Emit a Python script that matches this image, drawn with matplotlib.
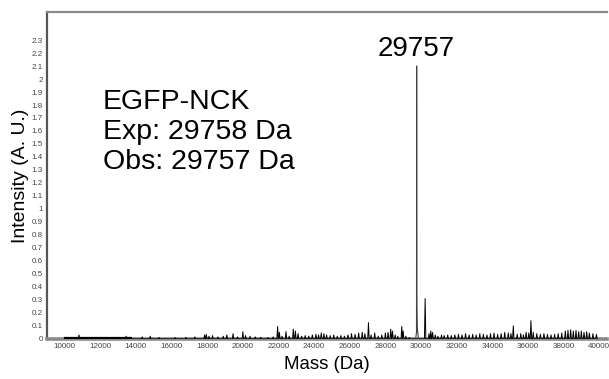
import matplotlib
matplotlib.use("Agg")
import matplotlib.pyplot as plt

plt.rcParams["font.family"] = ["Liberation Sans", "DejaVu Sans"]

# main peak (mass in Da, intensity in A.U.)
main_mass = 29757
main_height = 2.1
main_profile_dx = [-60, -10, 0, 12, 35, 100]
main_profile_y = [0.0, 0.05, 2.1, 0.28, 0.08, 0.0]

# smaller peaks
peak_mass = [
    10800, 13450,
    14350, 14800, 15300, 16200, 16800, 17300, 17850, 17950, 18100, 18300,
    18600, 18900, 19100, 19450, 19700, 20000, 20150, 20400, 20700, 21000,
    21400, 21700, 21950, 22050,
    22200, 22420, 22600, 22830, 22950, 23100, 23300, 23500, 23700, 23900,
    24100, 24250, 24400, 24550, 24700, 24900, 25100, 25300, 25500, 25700, 25900,
    26100, 26300, 26500, 26700, 26850, 27050, 27200, 27400, 27600, 27800,
    28000, 28150, 28300, 28400, 28550, 28700, 28920, 29000, 29150, 29350,
    30232, 30450, 30550, 30650, 30800, 30950, 31150, 31300, 31500, 31700,
    31900, 32100, 32300, 32500, 32700, 32900, 33100, 33300, 33500, 33700,
    33900, 34100, 34300, 34500, 34700, 34900, 35050, 35180, 35400, 35600,
    35750, 35900, 36050, 36170, 36300, 36500, 36700, 36900, 37100, 37300,
    37500, 37700, 37900, 38100, 38250, 38400, 38550, 38700, 38850, 39000,
    39150, 39300, 39450, 39650, 39850,
]
peak_height = [
    0.03, 0.02,
    0.015, 0.02, 0.01, 0.01, 0.012, 0.015, 0.03, 0.035, 0.02, 0.025,
    0.015, 0.02, 0.03, 0.04, 0.015, 0.055, 0.025, 0.02, 0.015, 0.012,
    0.01, 0.015, 0.095, 0.05,
    0.02, 0.056, 0.02, 0.075, 0.06, 0.04, 0.02, 0.025, 0.02, 0.03,
    0.035, 0.03, 0.045, 0.04, 0.03, 0.025, 0.03, 0.02, 0.025, 0.02, 0.03,
    0.04, 0.035, 0.045, 0.05, 0.04, 0.125, 0.03, 0.045, 0.02, 0.03,
    0.045, 0.05, 0.075, 0.06, 0.03, 0.02, 0.095, 0.06, 0.02, 0.01,
    0.31, 0.04, 0.06, 0.05, 0.03, 0.02, 0.03, 0.025, 0.03, 0.025,
    0.03, 0.035, 0.03, 0.04, 0.03, 0.035, 0.03, 0.04, 0.035, 0.03,
    0.04, 0.045, 0.035, 0.04, 0.05, 0.045, 0.04, 0.10, 0.035, 0.04,
    0.03, 0.05, 0.045, 0.14, 0.05, 0.04, 0.035, 0.04, 0.035, 0.03,
    0.035, 0.04, 0.045, 0.06, 0.065, 0.07, 0.06, 0.065, 0.055, 0.06,
    0.05, 0.055, 0.045, 0.04, 0.035,
]
peak_halfwidth = 40

# flat trace segment drawn on top of the axis at the low-mass end
flat_start, flat_end, flat_level = 10000, 13700, 0.006

x_ticks = list(range(10000, 40001, 2000))
y_ticks = [round(v * 0.1, 1) for v in range(0, 24)]

fig = plt.figure(figsize=(6.09, 3.79), dpi=100)
ax = fig.add_axes([0.077, 0.106, 0.92, 0.862])

# small peaks as one stick trace
xs, ys = [], []
for m, h in zip(peak_mass, peak_height):
    xs += [m - peak_halfwidth, m, m + peak_halfwidth]
    ys += [0, h, 0]
ax.plot(xs, ys, color="black", lw=0.7, zorder=3)

# main peak drawn thinner / greyer, like the original trace
ax.plot([main_mass + dx for dx in main_profile_dx], main_profile_y,
        color="#444444", lw=0.8, zorder=3)
ax.plot([flat_start, flat_end], [flat_level, flat_level], color="black", lw=1.6, zorder=3)

ax.set_xlim(9000, 40450)
ax.set_ylim(0, 2.515)
ax.set_xticks(x_ticks)
ax.set_xticklabels([str(v) for v in x_ticks])
ax.set_yticks(y_ticks)
ax.set_yticklabels([f"{v:g}" for v in y_ticks])
ax.tick_params(axis="both", length=0, labelsize=5.8, colors="#444444", pad=3)

ax.spines["right"].set_visible(False)
ax.spines["top"].set_color("#8a8a8a")
ax.spines["top"].set_linewidth(1.6)
ax.spines["left"].set_color("#555555")
ax.spines["left"].set_linewidth(1.6)
ax.spines["bottom"].set_color("#8a8a8a")
ax.spines["bottom"].set_linewidth(2.6)

ax.set_xlabel("Mass (Da)", fontsize=13.4, labelpad=4)
ax.set_ylabel("Intensity (A. U.)", fontsize=14, labelpad=2)

ax.text(main_mass, 2.13, "29757", fontsize=20, ha="center", va="bottom")
ax.text(0.1, 0.765, "EGFP-NCK\nExp: 29758 Da\nObs: 29757 Da", transform=ax.transAxes,
        fontsize=20.5, va="top", ha="left", linespacing=1.2)

fig.savefig("out.png", dpi=100)
